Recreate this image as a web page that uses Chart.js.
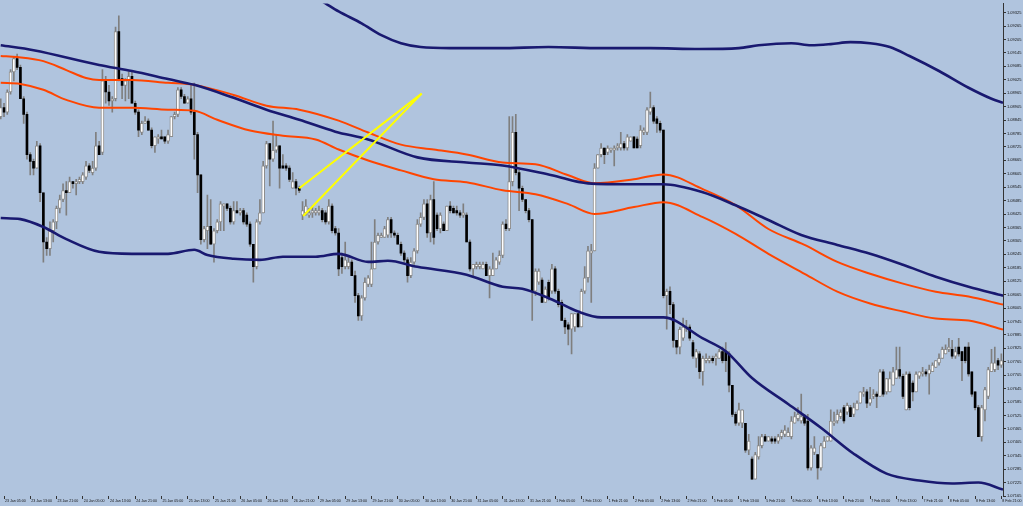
<!DOCTYPE html>
<html>
<head>
<meta charset="utf-8">
<script src="https://cdn.jsdelivr.net/npm/chart.js@4.4.1/dist/chart.umd.min.js"></script>
<style>
  html, body { margin: 0; padding: 0; background: #B0C4DE; }
</style>
</head>
<body>
<canvas id="priceChart" width="1023" height="506"></canvas>
<script>
// H1 candles, one per hour, bar 0 = 23 Jan 04:00
var opens = [1.0886,1.0890,1.0888,1.0897,1.0906,1.0912,1.0908,1.0894,1.0887,1.0869,
1.0866,1.0863,1.0873,1.0852,1.0830,1.0827,1.0835,1.0839,1.0845,1.0849,
1.0853,1.0852,1.0857,1.0856,1.0857,1.0857,1.0859,1.0864,1.0861,1.0863,
1.0873,1.0870,1.0902,1.0897,1.0893,1.0894,1.0924,1.0903,1.0900,1.0902,
1.0904,1.0892,1.0888,1.0879,1.0883,1.0884,1.0880,1.0873,1.0876,1.0877,
1.0877,1.0875,1.0877,1.0886,1.0887,1.0898,1.0895,1.0892,1.0894,1.0888,
1.0878,1.0860,1.0831,1.0835,1.0837,1.0829,1.0835,1.0839,1.0846,1.0847,
1.0845,1.0839,1.0844,1.0843,1.0844,1.0842,1.0838,1.0829,1.0819,1.0839,
1.0843,1.0864,1.0874,1.0867,1.0871,1.0873,1.0864,1.0864,1.0863,1.0854,
1.0857,1.0854,1.0842,1.0843,1.0842,1.0843,1.0843,1.0843,1.0844,1.0843,
1.0839,1.0846,1.0836,1.0834,1.0823,1.0819,1.0819,1.0821,1.0815,1.0806,
1.0797,1.0805,1.0811,1.0811,1.0818,1.0830,1.0832,1.0832,1.0833,1.0840,
1.0834,1.0833,1.0829,1.0825,1.0822,1.0815,1.0821,1.0826,1.0838,1.0841,
1.0847,1.0834,1.0849,1.0842,1.0836,1.0838,1.0835,1.0846,1.0845,1.0844,
1.0843,1.0842,1.0842,1.0830,1.0818,1.0819,1.0819,1.0818,1.0820,1.0815,
1.0815,1.0818,1.0821,1.0824,1.0838,1.0836,1.0857,1.0879,1.0861,1.0854,
1.0849,1.0844,1.0840,1.0808,1.0812,1.0813,1.0803,1.0812,1.0808,1.0818,
1.0808,1.0803,1.0795,1.0793,1.0791,1.0792,1.0798,1.0792,1.0808,1.0814,
1.0825,1.0826,1.0863,1.0869,1.0872,1.0870,1.0871,1.0871,1.0872,1.0872,
1.0874,1.0872,1.0875,1.0877,1.0876,1.0873,1.0879,1.0879,1.0888,1.0890,
1.0885,1.0883,1.0880,1.0806,1.0808,1.0802,1.0786,1.0783,1.0787,1.0791,
1.0792,1.0785,1.0778,1.0780,1.0772,1.0777,1.0777,1.0778,1.0778,1.0778,
1.0781,1.0781,1.0780,1.0766,1.0753,1.0749,1.0749,1.0749,1.0737,1.0733,
1.0724,1.0734,1.0739,1.0743,1.0741,1.0742,1.0742,1.0741,1.0743,1.0744,
1.0743,1.0743,1.0749,1.0751,1.0750,1.0752,1.0750,1.0729,1.0736,1.0735,
1.0729,1.0738,1.0741,1.0741,1.0749,1.0750,1.0752,1.0756,1.0754,1.0756,
1.0753,1.0755,1.0758,1.0762,1.0763,1.0758,1.0761,1.0762,1.0761,1.0772,
1.0763,1.0763,1.0766,1.0769,1.0773,1.0770,1.0755,1.0771,1.0767,1.0763,
1.0770,1.0771,1.0772,1.0771,1.0772,1.0774,1.0776,1.0778,1.0780,1.0782,
1.0782,1.0779,1.0783,1.0781,1.0783,1.0783,1.0772,1.0763,1.0756,1.0743,
1.0755,1.0761,1.0772,1.0773,1.0777,1.0775];

var highs = [1.0894,1.0892,1.0898,1.0907,1.0913,1.0914,1.0909,1.0895,1.0888,1.0870,
1.0867,1.0875,1.0874,1.0852,1.0832,1.0839,1.0840,1.0846,1.0851,1.0856,
1.0857,1.0859,1.0857,1.0858,1.0859,1.0861,1.0866,1.0865,1.0866,1.0879,
1.0875,1.0907,1.0904,1.0900,1.0895,1.0926,1.0931,1.0905,1.0903,1.0906,
1.0906,1.0893,1.0889,1.0884,1.0886,1.0885,1.0881,1.0877,1.0878,1.0880,
1.0877,1.0880,1.0886,1.0888,1.0899,1.0899,1.0896,1.0895,1.0900,1.0901,
1.0879,1.0860,1.0837,1.0851,1.0849,1.0836,1.0840,1.0848,1.0847,1.0847,
1.0846,1.0848,1.0848,1.0845,1.0845,1.0843,1.0839,1.0829,1.0840,1.0849,
1.0866,1.0875,1.0874,1.0884,1.0878,1.0873,1.0869,1.0865,1.0864,1.0861,
1.0858,1.0855,1.0848,1.0849,1.0845,1.0846,1.0845,1.0846,1.0845,1.0844,
1.0849,1.0847,1.0837,1.0836,1.0825,1.0830,1.0823,1.0822,1.0817,1.0807,
1.0806,1.0814,1.0815,1.0830,1.0840,1.0834,1.0834,1.0837,1.0841,1.0841,
1.0835,1.0834,1.0830,1.0826,1.0823,1.0823,1.0827,1.0840,1.0843,1.0849,
1.0849,1.0851,1.0857,1.0843,1.0843,1.0839,1.0846,1.0848,1.0846,1.0846,
1.0844,1.0847,1.0843,1.0831,1.0820,1.0821,1.0821,1.0821,1.0821,1.0819,
1.0825,1.0823,1.0826,1.0839,1.0840,1.0886,1.0886,1.0887,1.0862,1.0855,
1.0849,1.0845,1.0840,1.0818,1.0818,1.0814,1.0810,1.0813,1.0820,1.0819,
1.0809,1.0804,1.0796,1.0794,1.0798,1.0798,1.0798,1.0809,1.0819,1.0828,
1.0829,1.0865,1.0869,1.0874,1.0872,1.0873,1.0872,1.0873,1.0874,1.0879,
1.0875,1.0878,1.0877,1.0877,1.0877,1.0882,1.0881,1.0890,1.0897,1.0891,
1.0886,1.0884,1.0880,1.0809,1.0810,1.0803,1.0786,1.0792,1.0796,1.0795,
1.0793,1.0786,1.0782,1.0781,1.0779,1.0780,1.0779,1.0779,1.0780,1.0782,
1.0783,1.0785,1.0781,1.0766,1.0754,1.0758,1.0755,1.0749,1.0744,1.0734,
1.0736,1.0743,1.0744,1.0744,1.0743,1.0743,1.0743,1.0744,1.0746,1.0748,
1.0747,1.0752,1.0754,1.0756,1.0762,1.0753,1.0753,1.0739,1.0743,1.0735,
1.0740,1.0743,1.0743,1.0755,1.0754,1.0755,1.0755,1.0757,1.0758,1.0757,
1.0758,1.0759,1.0763,1.0765,1.0764,1.0765,1.0764,1.0763,1.0773,1.0773,
1.0769,1.0772,1.0774,1.0783,1.0783,1.0771,1.0772,1.0772,1.0768,1.0772,
1.0772,1.0774,1.0773,1.0775,1.0776,1.0777,1.0780,1.0783,1.0784,1.0787,
1.0786,1.0783,1.0787,1.0781,1.0783,1.0785,1.0772,1.0763,1.0757,1.0757,
1.0765,1.0774,1.0782,1.0783,1.0778,1.0780];

var lows = [1.0885,1.0886,1.0887,1.0896,1.0902,1.0907,1.0894,1.0883,1.0867,1.0860,
1.0860,1.0863,1.0848,1.0821,1.0824,1.0824,1.0830,1.0836,1.0843,1.0848,
1.0842,1.0852,1.0854,1.0851,1.0856,1.0856,1.0858,1.0861,1.0860,1.0862,
1.0869,1.0869,1.0892,1.0891,1.0888,1.0893,1.0902,1.0894,1.0893,1.0894,
1.0892,1.0887,1.0877,1.0878,1.0883,1.0880,1.0872,1.0870,1.0874,1.0876,
1.0874,1.0874,1.0877,1.0885,1.0886,1.0894,1.0892,1.0892,1.0887,1.0867,
1.0852,1.0829,1.0830,1.0827,1.0829,1.0821,1.0834,1.0835,1.0835,1.0844,
1.0838,1.0838,1.0843,1.0842,1.0838,1.0837,1.0828,1.0812,1.0818,1.0838,
1.0843,1.0863,1.0855,1.0866,1.0870,1.0854,1.0863,1.0862,1.0857,1.0854,
1.0851,1.0852,1.0840,1.0842,1.0841,1.0841,1.0842,1.0842,1.0839,1.0838,
1.0838,1.0834,1.0833,1.0815,1.0816,1.0818,1.0818,1.0815,1.0803,1.0795,
1.0795,1.0804,1.0810,1.0810,1.0818,1.0829,1.0832,1.0832,1.0832,1.0832,
1.0832,1.0829,1.0824,1.0821,1.0812,1.0814,1.0820,1.0825,1.0837,1.0840,
1.0832,1.0830,1.0829,1.0835,1.0834,1.0835,1.0835,1.0843,1.0843,1.0842,
1.0841,1.0841,1.0830,1.0817,1.0815,1.0818,1.0818,1.0818,1.0815,1.0805,
1.0815,1.0818,1.0820,1.0823,1.0835,1.0835,1.0855,1.0860,1.0844,1.0848,
1.0843,1.0839,1.0795,1.0806,1.0811,1.0803,1.0803,1.0804,1.0807,1.0807,
1.0801,1.0795,1.0789,1.0784,1.0780,1.0790,1.0792,1.0792,1.0807,1.0812,
1.0803,1.0826,1.0863,1.0868,1.0865,1.0869,1.0870,1.0864,1.0871,1.0871,
1.0871,1.0871,1.0875,1.0872,1.0872,1.0872,1.0878,1.0878,1.0887,1.0883,
1.0879,1.0879,1.0805,1.0791,1.0798,1.0783,1.0780,1.0780,1.0786,1.0790,
1.0786,1.0778,1.0774,1.0769,1.0766,1.0776,1.0776,1.0776,1.0775,1.0778,
1.0776,1.0772,1.0763,1.0752,1.0748,1.0748,1.0747,1.0736,1.0735,1.0724,
1.0724,1.0733,1.0738,1.0741,1.0741,1.0740,1.0740,1.0740,1.0742,1.0743,
1.0743,1.0742,1.0749,1.0750,1.0749,1.0748,1.0728,1.0728,1.0735,1.0724,
1.0728,1.0738,1.0741,1.0741,1.0748,1.0749,1.0751,1.0749,1.0753,1.0752,
1.0752,1.0755,1.0758,1.0761,1.0756,1.0757,1.0760,1.0756,1.0761,1.0761,
1.0762,1.0763,1.0766,1.0769,1.0769,1.0760,1.0755,1.0755,1.0759,1.0763,
1.0769,1.0770,1.0770,1.0762,1.0772,1.0774,1.0775,1.0778,1.0780,1.0781,
1.0778,1.0778,1.0779,1.0768,1.0776,1.0770,1.0761,1.0755,1.0743,1.0741,
1.0750,1.0760,1.0772,1.0772,1.0773,1.0774];

var closes = [1.0890,1.0888,1.0897,1.0906,1.0912,1.0908,1.0894,1.0887,1.0869,1.0866,
1.0863,1.0873,1.0852,1.0830,1.0827,1.0835,1.0839,1.0845,1.0849,1.0853,
1.0852,1.0857,1.0856,1.0857,1.0858,1.0860,1.0864,1.0862,1.0863,1.0873,
1.0869,1.0902,1.0897,1.0893,1.0894,1.0924,1.0903,1.0900,1.0902,1.0904,
1.0892,1.0888,1.0880,1.0883,1.0884,1.0880,1.0873,1.0877,1.0877,1.0876,
1.0875,1.0878,1.0886,1.0887,1.0898,1.0895,1.0892,1.0894,1.0888,1.0878,
1.0860,1.0831,1.0836,1.0837,1.0829,1.0835,1.0839,1.0847,1.0847,1.0845,
1.0839,1.0844,1.0843,1.0844,1.0839,1.0838,1.0829,1.0819,1.0839,1.0843,
1.0864,1.0874,1.0867,1.0871,1.0873,1.0863,1.0863,1.0863,1.0858,1.0857,
1.0854,1.0853,1.0844,1.0846,1.0843,1.0844,1.0844,1.0844,1.0840,1.0839,
1.0846,1.0835,1.0834,1.0818,1.0819,1.0822,1.0821,1.0815,1.0806,1.0797,
1.0805,1.0812,1.0814,1.0818,1.0830,1.0833,1.0833,1.0836,1.0840,1.0834,
1.0833,1.0829,1.0825,1.0822,1.0815,1.0821,1.0826,1.0838,1.0841,1.0847,
1.0834,1.0849,1.0832,1.0836,1.0842,1.0835,1.0846,1.0844,1.0843,1.0843,
1.0842,1.0843,1.0830,1.0818,1.0820,1.0820,1.0820,1.0820,1.0815,1.0818,
1.0818,1.0822,1.0824,1.0838,1.0836,1.0857,1.0879,1.0861,1.0854,1.0849,
1.0844,1.0840,1.0808,1.0817,1.0817,1.0803,1.0809,1.0805,1.0818,1.0808,
1.0802,1.0795,1.0792,1.0791,1.0798,1.0798,1.0792,1.0808,1.0814,1.0826,
1.0826,1.0863,1.0869,1.0872,1.0869,1.0872,1.0872,1.0872,1.0873,1.0874,
1.0872,1.0877,1.0877,1.0872,1.0872,1.0880,1.0880,1.0889,1.0890,1.0884,
1.0883,1.0880,1.0806,1.0808,1.0802,1.0786,1.0783,1.0791,1.0792,1.0792,
1.0787,1.0779,1.0781,1.0772,1.0778,1.0778,1.0778,1.0777,1.0779,1.0781,
1.0777,1.0777,1.0766,1.0753,1.0749,1.0755,1.0755,1.0737,1.0741,1.0724,
1.0735,1.0739,1.0743,1.0741,1.0743,1.0741,1.0741,1.0743,1.0745,1.0746,
1.0745,1.0750,1.0752,1.0753,1.0752,1.0749,1.0729,1.0738,1.0738,1.0729,
1.0739,1.0741,1.0743,1.0750,1.0750,1.0753,1.0754,1.0750,1.0757,1.0752,
1.0756,1.0758,1.0763,1.0763,1.0758,1.0760,1.0762,1.0761,1.0772,1.0762,
1.0769,1.0769,1.0772,1.0773,1.0770,1.0761,1.0771,1.0756,1.0763,1.0771,
1.0772,1.0772,1.0771,1.0773,1.0775,1.0777,1.0778,1.0782,1.0782,1.0783,
1.0779,1.0781,1.0780,1.0777,1.0777,1.0771,1.0762,1.0756,1.0743,1.0756,
1.0764,1.0773,1.0776,1.0776,1.0775,1.0777];

// indicator lines, [bar, price]
var bandUpper = [[95,1.09402],[99,1.09366],[103,1.09330],[110,1.09277],[116,1.09224],[122,1.09188],[128,1.09171],[137,1.09166],[152,1.09166],[167,1.09171],[183,1.09166],[198,1.09166],[213,1.09162],[225,1.09166],[231,1.09179],[241,1.09188],[247,1.09179],[253,1.09184],[259,1.09193],[265,1.09188],[271,1.09171],[277,1.09131],[286,1.09064],[295,1.08989],[302,1.08940],[305.5,1.08922]];
var bandMid = [[0,1.09179],[10,1.09157],[30,1.09091],[40,1.09064],[51,1.09028],[59,1.09002],[71,1.08944],[81,1.08891],[91,1.08846],[102,1.08793],[112,1.08758],[127,1.08678],[142,1.08655],[153,1.08642],[168,1.08598],[179,1.08562],[193,1.08558],[202,1.08558],[214,1.08522],[224,1.08464],[234,1.08398],[244,1.08331],[255,1.08287],[265,1.08247],[275,1.08198],[285,1.08145],[295,1.08100],[305.5,1.08060]];
var bandLower = [[0,1.08407],[6,1.08402],[13,1.08367],[20,1.08313],[30,1.08256],[40,1.08247],[51,1.08247],[59,1.08265],[63,1.08242],[71,1.08225],[79,1.08220],[86,1.08234],[96,1.08234],[103,1.08247],[112,1.08211],[118,1.08216],[127,1.08189],[142,1.08154],[153,1.08100],[159,1.08091],[168,1.08043],[176,1.07989],[183,1.07963],[202,1.07963],[214,1.07869],[221,1.07812],[229,1.07692],[240,1.07576],[250,1.07470],[260,1.07354],[270,1.07265],[280,1.07234],[290,1.07221],[298,1.07225],[305.5,1.07194]];
var envUpper = [[0,1.09131],[5,1.09126],[13,1.09108],[20,1.09068],[26,1.09033],[30,1.09024],[40,1.09024],[51,1.09011],[59,1.09002],[71,1.08957],[81,1.08909],[91,1.08891],[103,1.08842],[112,1.08789],[122,1.08735],[132,1.08713],[142,1.08691],[153,1.08655],[163,1.08647],[173,1.08598],[181,1.08562],[193,1.08580],[202,1.08602],[214,1.08536],[224,1.08465],[234,1.08358],[245,1.08287],[255,1.08211],[265,1.08158],[275,1.08114],[285,1.08078],[295,1.08056],[305.5,1.08020]];
var envLower = [[0,1.09011],[6,1.09006],[13,1.08980],[20,1.08935],[30,1.08900],[40,1.08900],[51,1.08891],[59,1.08886],[66,1.08846],[76,1.08798],[86,1.08775],[96,1.08758],[103,1.08713],[112,1.08664],[122,1.08620],[132,1.08580],[142,1.08567],[153,1.08531],[163,1.08513],[173,1.08469],[181,1.08425],[193,1.08456],[202,1.08478],[214,1.08411],[224,1.08336],[234,1.08247],[245,1.08158],[255,1.08078],[265,1.08025],[275,1.07989],[285,1.07958],[295,1.07949],[305.5,1.07909]];

// hand drawn trend lines
var trendA = [[91.0,1.08540],[128.3,1.08963]];
var trendB = [[92.2,1.08416],[128.3,1.08963]];

// axis labels
var timeLabels = ['23 Jan 05:00','23 Jan 13:00','23 Jan 21:00','24 Jan 05:00','24 Jan 13:00','24 Jan 21:00',
'25 Jan 05:00','25 Jan 13:00','25 Jan 21:00','26 Jan 05:00','26 Jan 13:00','26 Jan 21:00',
'29 Jan 05:00','29 Jan 13:00','29 Jan 21:00','30 Jan 05:00','30 Jan 13:00','30 Jan 21:00',
'31 Jan 05:00','31 Jan 13:00','31 Jan 21:00','1 Feb 05:00','1 Feb 13:00','1 Feb 21:00',
'2 Feb 05:00','2 Feb 13:00','2 Feb 21:00','5 Feb 05:00','5 Feb 13:00','5 Feb 21:00',
'6 Feb 05:00','6 Feb 13:00','6 Feb 21:00','7 Feb 05:00','7 Feb 13:00','7 Feb 21:00',
'8 Feb 05:00','8 Feb 13:00','8 Feb 21:00'];
var priceTicks = [1.07165,1.07225,1.07285,1.07345,1.07405,1.07465,1.07525,1.07585,1.07645,1.07705,
1.07765,1.07825,1.07885,1.07945,1.08005,1.08065,1.08125,1.08185,1.08245,1.08305,
1.08365,1.08425,1.08485,1.08545,1.08605,1.08665,1.08725,1.08785,1.08845,1.08905,
1.08965,1.09025,1.09085,1.09145,1.09205,1.09265,1.09325];

// build datasets
var wicks = [], bulls = [], bears = [];
opens.forEach(function(o, i) {
  wicks.push({x: i, y: [lows[i], highs[i]]});
  if (closes[i] >= o) bulls.push({x: i, y: [o, closes[i]]});
  else bears.push({x: i, y: [closes[i], o]});
});
function pts(arr) { return arr.map(function(p) { return {x: p[0], y: p[1]}; }); }
var labelBars = timeLabels.map(function(t, k) { return 1 + 8 * k; });

function lineSet(data, color, width, order, smooth) {
  return {
    type: 'line', data: pts(data), borderColor: color, borderWidth: width,
    pointRadius: 0, fill: false, order: order,
    cubicInterpolationMode: smooth ? 'monotone' : 'default', tension: 0
  };
}

var bgPlugin = {
  id: 'bg',
  beforeDraw: function(chart) {
    var c = chart.ctx;
    c.save();
    c.fillStyle = '#B0C4DE';
    c.fillRect(0, 0, chart.width, chart.height);
    c.restore();
  }
};

var ctx = document.getElementById('priceChart').getContext('2d');
var myChart = new Chart(ctx, {
  type: 'bar',
  data: {
    datasets: [
      {data: wicks, backgroundColor: '#7f7f7f', barThickness: 1, grouped: false, order: 3},
      {data: bulls, backgroundColor: '#ffffff', borderColor: '#8c8c8c', borderWidth: 1, borderSkipped: false,
        barThickness: 3, minBarLength: 1, grouped: false, order: 2},
      {data: bears, backgroundColor: '#000000', barThickness: 2, minBarLength: 1, grouped: false, order: 2},
      lineSet(bandUpper, '#191970', 2.6, 1, true),
      lineSet(bandMid, '#191970', 2.6, 1, true),
      lineSet(bandLower, '#191970', 2.6, 1, true),
      lineSet(envUpper, '#FF4500', 2, 1, true),
      lineSet(envLower, '#FF4500', 2, 1, true),
      lineSet(trendA, '#FFFF00', 2, 0, false),
      lineSet(trendB, '#FFFF00', 2, 0, false)
    ]
  },
  options: {
    responsive: false,
    animation: false,
    layout: {padding: 0},
    plugins: {legend: {display: false}, tooltip: {enabled: false}},
    scales: {
      x: {
        type: 'linear', min: -0.22, max: 305.5, offset: false,
        afterFit: function(s) { s.height = 10; },
        afterBuildTicks: function(s) { s.ticks = labelBars.map(function(v) { return {value: v}; }); },
        grid: {drawOnChartArea: false, offset: false, tickLength: 3, color: '#333'},
        border: {display: false},
        ticks: {
          autoSkip: false, maxRotation: 0, minRotation: 0, align: 'start', padding: 0, labelOffset: 1,
          color: '#111', font: {family: 'Liberation Sans', size: 3.6},
          callback: function(v, i) { return timeLabels[i]; }
        }
      },
      y: {
        position: 'right', min: 1.07165, max: 1.09366,
        afterFit: function(s) { s.width = 20; },
        afterBuildTicks: function(s) { s.ticks = priceTicks.map(function(v) { return {value: v}; }); },
        grid: {drawOnChartArea: false, tickLength: 3, color: '#333'},
        border: {display: true, color: '#333', width: 1},
        ticks: {
          padding: 1, color: '#111', font: {family: 'Liberation Sans', size: 4},
          callback: function(v) { return v.toFixed(5); }
        }
      }
    }
  },
  plugins: [bgPlugin]
});
</script>
</body>
</html>
